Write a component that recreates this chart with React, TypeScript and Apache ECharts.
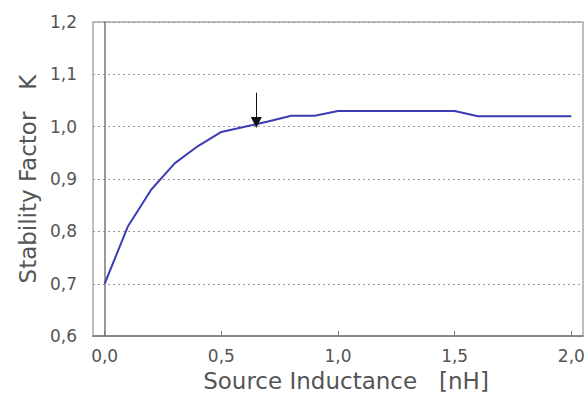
import React, { useEffect, useRef } from "react";
import * as echarts from "echarts";

// Source inductance [nH] and the resulting stability factor K
const inductance = [0.0, 0.1, 0.2, 0.3, 0.4, 0.5, 0.6, 0.7, 0.8, 0.9, 1.0, 1.1, 1.2, 1.3, 1.4, 1.5, 1.6, 1.7, 1.8, 1.9, 2.0];
const stabilityK = [0.70, 0.81, 0.88, 0.93, 0.963, 0.99, 1.0, 1.01, 1.021, 1.021, 1.03, 1.03, 1.03, 1.03, 1.03, 1.03, 1.02, 1.02, 1.02, 1.02, 1.02];

const xTicks = [0, 0.5, 1.0, 1.5, 2.0];
// Arrow marking the point where K crosses unity
const arrowX = 0.65;
const arrowFrom = 1.065;
const arrowTo = 1.008;

const fmt = (v: number) => v.toFixed(1).replace(".", ",");
const FONT = "'DejaVu Sans', sans-serif";
const TEXT = "#555";

export default function App() {
  const ref = useRef<HTMLDivElement>(null);

  useEffect(() => {
    if (!ref.current) return;
    const chart = echarts.init(ref.current, undefined, { renderer: "svg" });
    chart.setOption({
      animation: false,
      backgroundColor: "#fff",
      grid: {
        left: 93,
        top: 22,
        right: 5,
        bottom: 60,
        show: true,
        borderColor: "#aaa",
        borderWidth: 1.5,
      },
      xAxis: {
        type: "value",
        min: -0.05,
        max: 2.05,
        name: "Source Inductance   [nH]",
        nameLocation: "middle",
        nameGap: 31,
        nameTextStyle: { fontFamily: FONT, fontSize: 23, color: TEXT, padding: [0, 0, 0, 16] },
        axisLine: { show: true, lineStyle: { color: "#777", width: 1.5 } },
        axisTick: { show: true, inside: true, length: 5, customValues: xTicks, lineStyle: { color: "#777" } },
        axisLabel: {
          customValues: xTicks,
          formatter: (v: number) => fmt(v),
          fontFamily: FONT,
          fontSize: 17,
          color: TEXT,
          margin: 11,
        },
        splitLine: { show: false },
      },
      yAxis: {
        type: "value",
        min: 0.6,
        max: 1.2,
        interval: 0.1,
        name: "Stability Factor   K",
        nameLocation: "middle",
        nameGap: 54,
        nameTextStyle: { fontFamily: FONT, fontSize: 23, color: TEXT },
        axisLine: { show: true, lineStyle: { color: "#777", width: 1.5 } },
        axisTick: { show: false },
        axisLabel: {
          formatter: (v: number) => fmt(v),
          fontFamily: FONT,
          fontSize: 17,
          color: TEXT,
          margin: 16,
        },
        splitLine: { show: true, lineStyle: { color: "#999", type: [2, 3], width: 1 } },
      },
      series: [
        {
          type: "line",
          data: inductance.map((x, i) => [x, stabilityK[i]]),
          showSymbol: false,
          lineStyle: { color: "#3c3cb4", width: 2 },
          markLine: {
            silent: true,
            symbol: ["none", "triangle"],
            symbolSize: [11, 11],
            label: { show: false },
            lineStyle: { color: "#111", width: 1, type: "solid" },
            data: [[{ coord: [arrowX, arrowFrom] }, { coord: [arrowX, arrowTo] }]],
          },
        },
      ],
    });
    return () => chart.dispose();
  }, []);

  return <div ref={ref} style={{ position: "absolute", left: 0, top: 0, width: 588, height: 397 }} />;
}
